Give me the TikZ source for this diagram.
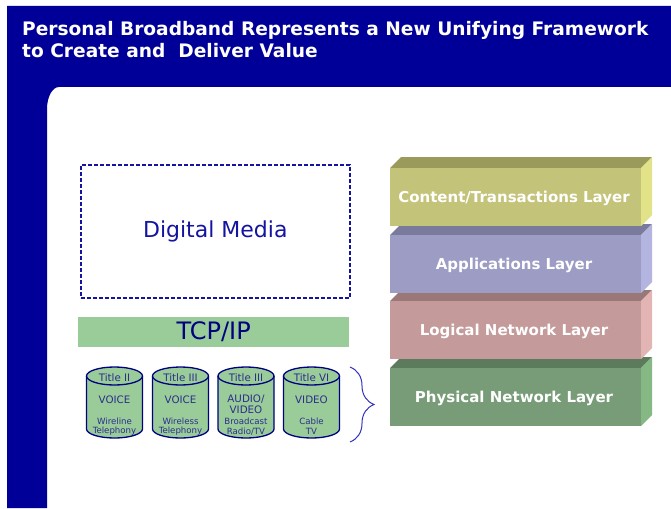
\documentclass[tikz,border=0pt]{standalone}
\usepackage{fontspec}
\setmainfont{DejaVu Sans}
\usetikzlibrary{decorations.pathreplacing}
\definecolor{frameblue}{RGB}{0,0,153}
\definecolor{dmblue}{RGB}{20,20,160}
\definecolor{navyline}{RGB}{0,0,128}
\definecolor{cyltext}{RGB}{45,45,140}
\definecolor{tcpgreen}{RGB}{153,204,153}
\definecolor{bracecol}{RGB}{50,50,190}
\definecolor{cF}{RGB}{196,195,122}\definecolor{cT}{RGB}{154,154,90}\definecolor{cS}{RGB}{226,226,136}
\definecolor{aF}{RGB}{156,156,196}\definecolor{aT}{RGB}{122,122,156}\definecolor{aS}{RGB}{180,180,224}
\definecolor{lF}{RGB}{196,154,154}\definecolor{lT}{RGB}{154,120,120}\definecolor{lS}{RGB}{226,180,180}
\definecolor{pF}{RGB}{120,156,120}\definecolor{pT}{RGB}{92,122,92}\definecolor{pS}{RGB}{134,184,134}
\tikzset{
  titletext/.style={text=white, font=\fontsize{18.6}{20}\selectfont\bfseries, inner sep=0pt, anchor=base west},
  dmbox/.style={draw=dmblue, line width=1.6pt, dash pattern=on 4pt off 2pt, minimum width=269pt, minimum height=133pt, anchor=north west, text=dmblue, font=\fontsize{22}{24}\selectfont, inner sep=0pt},
  tcpbar/.style={fill=tcpgreen, minimum width=271pt, minimum height=30pt, anchor=north west, text=navyline, font=\fontsize{24}{26}\selectfont, inner sep=0pt},
  cylbody/.style={fill=tcpgreen, draw=navyline, line width=1.3pt},
  cyltitle/.style={text=cyltext, font=\fontsize{10.3}{11}\selectfont, inner sep=0pt},
  cylmain/.style={text=cyltext, font=\fontsize{10.3}{11}\selectfont, inner sep=0pt},
  cylsmall/.style={text=cyltext, font=\fontsize{8.6}{9}\selectfont, inner sep=0pt},
  layertext/.style={text=white, font=\fontsize{15}{17}\selectfont\bfseries, inner sep=0pt},
  bracestyle/.style={draw=bracecol, line width=1pt, decorate, decoration={brace, amplitude=24pt}}
}
% layer: #1 front top y, #2 front, #3 top, #4 side, #5 name, #6 text
\newcommand\mylayer[6]{%
  \fill[#3] (390,#1) -- (401,#1-11) -- (652,#1-11) -- (641,#1) -- cycle;
  \fill[#4] (641,#1) -- (652,#1-11) -- (652,#1+47) -- (641,#1+58) -- cycle;
  \fill[#2] (390,#1) rectangle (641,#1+58);
  \node[layertext] (#5) at (514,#1+30) {#6};
}
% cylinder: #1 centre x, #2 name, #3 title, #4 main line 1, #5 main line 2, #6 small 1, #7 small 2
\newcommand\mycyl[7]{%
  \filldraw[cylbody] (#1-28,376) -- (#1-28,429) arc[start angle=180,end angle=0,x radius=28,y radius=9]
     -- (#1+28,376) arc[start angle=0,end angle=-180,x radius=28,y radius=9] -- cycle;
  \draw[cylbody, fill=none] (#1-28,376) arc[start angle=180,end angle=0,x radius=28,y radius=9];
  \node[cyltitle] (#2t) at (#1,377.5) {#3};
  \node[cylsmall] (#2s1) at (#1,421) {#6};
  \node[cylsmall] (#2s2) at (#1,431.5) {#7};
}
\begin{document}
\begin{tikzpicture}[x=1pt,y=-1pt]
\useasboundingbox (0,0) rectangle (671,508);
\fill[white] (0,0) rectangle (671,508);
\fill[frameblue] (7,6) -- (671,6) -- (671,87) -- (59,87)
   arc[start angle=270,end angle=180,x radius=12,y radius=22] -- (47,508) -- (7,508) -- cycle;
\node[titletext] (t1) at (22,35.5) {Personal Broadband Represents a New Unifying Framework};
\node[titletext] (t2) at (22,57.5) {to Create and\ \ Deliver Value};

\node[dmbox] (dm) at (80,164) {Digital Media};
\node[tcpbar] (tcp) at (78,317) {TCP/IP};

\mycyl{114.5}{ca}{Title II}{}{}{Wireline}{Telephony}
\node[cylmain] (cam) at (114.5,400) {VOICE};
\mycyl{180.5}{cb}{Title III}{}{}{Wireless}{Telephony}
\node[cylmain] (cbm) at (180.5,400) {VOICE};
\mycyl{246}{cc}{Title III}{}{}{Broadcast}{Radio/TV}
\node[cylmain] (ccm1) at (246,399) {AUDIO/};
\node[cylmain] (ccm2) at (246,410) {VIDEO};
\mycyl{311.5}{cd}{Title VI}{}{}{Cable}{TV}
\node[cylmain] (cdm) at (311.5,400) {VIDEO};

\coordinate (bt) at (350,367);
\coordinate (bb) at (350,442);
\draw[bracestyle] (bt) -- (bb);

\mylayer{368}{pF}{pT}{pS}{phys}{Physical Network Layer}
\mylayer{301}{lF}{lT}{lS}{logi}{Logical Network Layer}
\mylayer{235}{aF}{aT}{aS}{appl}{Applications Layer}
\mylayer{168}{cF}{cT}{cS}{cont}{Content/Transactions Layer}
\end{tikzpicture}
\end{document}
